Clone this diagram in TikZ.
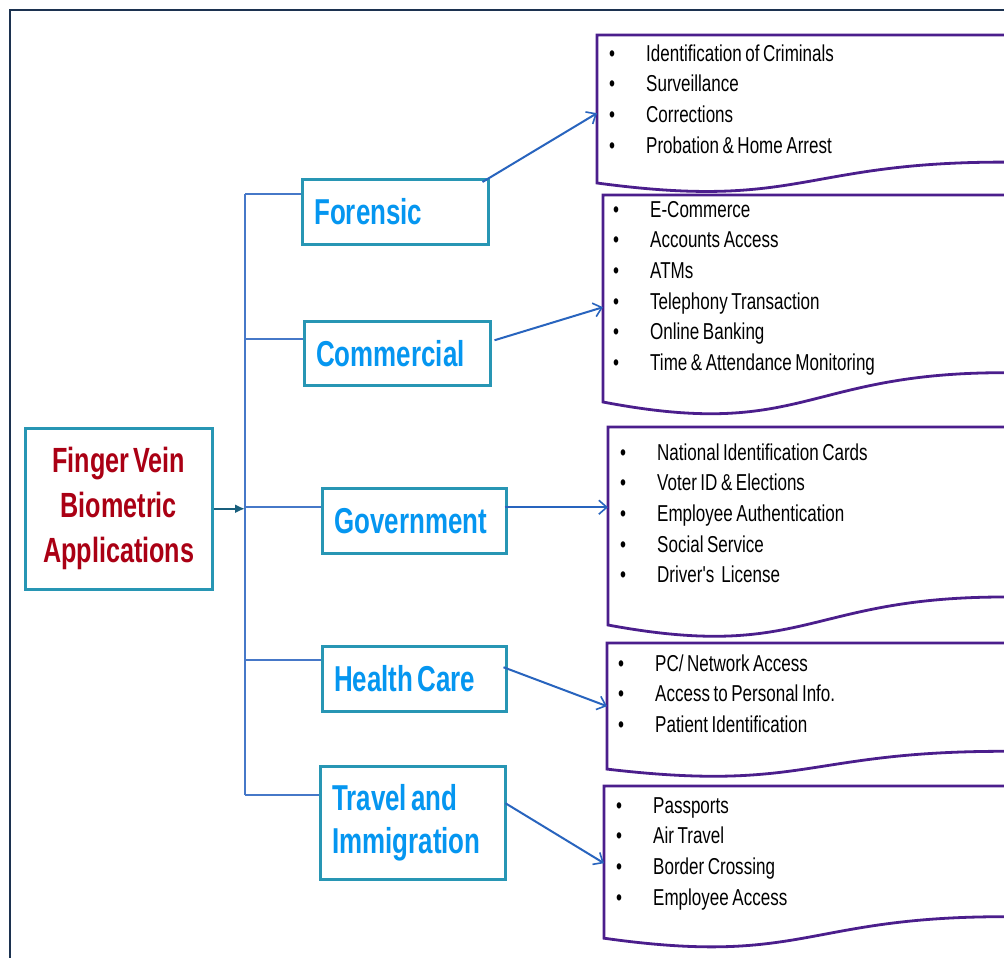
\documentclass[tikz,border=0pt]{standalone}
\usepackage{fontspec}
\setmainfont{Liberation Sans}
\newfontfamily\headfont[FakeStretch=0.72,WordSpace={0.55,0,0}]{Liberation Sans}
\newfontfamily\listfont[FakeStretch=0.74,WordSpace={0.75,0,0}]{Liberation Sans}
\usetikzlibrary{arrows.meta,calc}
\definecolor{framec}{RGB}{28,50,80}
\definecolor{boxc}{RGB}{40,150,180}
\definecolor{catc}{RGB}{5,150,240}
\definecolor{mainc}{RGB}{170,0,20}
\definecolor{busc}{RGB}{70,120,200}
\definecolor{arrc}{RGB}{40,100,190}
\definecolor{mainarrc}{RGB}{25,95,125}
\definecolor{docc}{RGB}{75,30,140}
\newcommand\lbul{\rule{0pt}{24pt}\makebox[37pt][l]{\textbullet}}
\newcommand\tightsp{\spaceskip=0.12em\relax}
\begin{document}
\begin{tikzpicture}[x=1pt,y=-1pt,
  mainbox/.style={draw=boxc,line width=2.5pt,align=center,text=mainc,inner sep=0pt,
    font=\headfont\bfseries\fontsize{35}{45}\selectfont,anchor=north west},
  catbox/.style={draw=boxc,line width=2.5pt,align=left,text=catc,inner xsep=12pt,inner ysep=0pt,
    font=\headfont\bfseries\fontsize{36}{43}\selectfont,anchor=north west},
  docarea/.style={inner sep=0pt,anchor=north west,minimum width=20pt},
  docline/.style={draw=docc,line width=2.8pt,fill=white},
  listtext/.style={inner sep=0pt,anchor=north west,align=left,
    font=\listfont\fontsize{23}{30.6}\selectfont},
  bus/.style={draw=busc,line width=2pt},
  arr/.style={draw=arrc,line width=2pt,-{Straight Barb[length=8pt,width=14pt,line width=1.6pt]}},
  mainarr/.style={draw=mainarrc,line width=2pt,-{Latex[length=10pt,width=9pt]}}
]
\useasboundingbox (0,0) rectangle (1004,958);
\fill[white] (0,0) rectangle (1004,958);
\draw[framec,line width=2pt] (10,958) -- (10,10) -- (1004,10);

% main box
\node[mainbox,minimum width=187pt,minimum height=161pt] (m) at (24,427) {Finger Vein\\Biometric\\Applications};

% category boxes
\node[catbox,text width=162pt,minimum height=65pt] (f) at (301,178) {Forensic};
\node[catbox,text width=162pt,minimum height=64pt] (c) at (303,320) {Commercial};
\node[catbox,text width=160pt,minimum height=65pt] (g) at (321,487) {Government};
\node[catbox,text width=160pt,minimum height=65pt] (h) at (321,645) {\tightsp Health Care};
\node[catbox,text width=161pt,minimum height=113pt] (t) at (319,765) {\tightsp Travel and\\Immigration};

% bus
\coordinate (bf) at (245,194);
\coordinate (bc) at (245,339);
\coordinate (bg) at (245,507);
\coordinate (bh) at (245,660);
\coordinate (bt) at (245,795);
\draw[bus] (bf) -- (bt);
\draw[bus] (bf) -- (bf -| f.west);
\draw[bus] (bc) -- (bc -| c.west);
\draw[bus] (bg) -- (bg -| g.west);
\draw[bus] (bh) -- (bh -| h.west);
\draw[bus] (bt) -- (bt -| t.west);
\draw[mainarr] (m.east) -- (m.east -| bg);

% documents
\draw[docline] (597,35) -- (1006,35) -- (1006,162.1) -- (1004,162.1) .. controls (800.5,162.1) and (800.5,210.5) .. (597,183) -- cycle;
\draw[docline] (603,195) -- (1006,195) -- (1006,372.7) -- (1004,372.7) .. controls (803.5,372.7) and (803.5,440.3) .. (603,402) -- cycle;
\draw[docline] (608,427) -- (1006,427) -- (1006,597) -- (1004,597) .. controls (806,597) and (806,661.7) .. (608,625) -- cycle;
\draw[docline] (607,643) -- (1006,643) -- (1006,751.3) -- (1004,751.3) .. controls (805.5,751.3) and (805.5,792.4) .. (607,769.1) -- cycle;
\draw[docline] (604,786) -- (1006,786) -- (1006,916.7) -- (1004,916.7) .. controls (804,916.7) and (804,966.4) .. (604,938.2) -- cycle;

\node[docarea,minimum height=148pt] (d1) at (597,35) {};
\node[docarea,minimum height=207pt] (d2) at (603,195) {};
\node[docarea,minimum height=198pt] (d3) at (608,427) {};
\node[docarea,minimum height=126pt] (d4) at (607,643) {};
\node[docarea,minimum height=152pt] (d5) at (604,786) {};

\node[listtext] (l1) at (609,37) {\lbul Identification of Criminals\\\lbul Surveillance\\\lbul Corrections\\\lbul Probation \& Home Arrest};
\node[listtext] (l2) at (613,193) {\lbul E-Commerce\\\lbul Accounts Access\\\lbul ATMs\\\lbul Telephony Transaction\\\lbul Online Banking\\\lbul Time \& Attendance Monitoring};
\node[listtext] (l3) at (620,436) {\lbul National Identification Cards\\\lbul Voter ID \& Elections\\\lbul Employee Authentication\\\lbul Social Service\\\lbul Driver's\ \ License};
\node[listtext] (l4) at (618,647) {\lbul PC/ Network Access\\\lbul Access to Personal Info.\\\lbul Patient Identification};
\node[listtext] (l5) at (616,789) {\lbul Passports\\\lbul Air Travel\\\lbul Border Crossing\\\lbul Employee Access};

% arrows to documents
\draw[arr] ([xshift=-7pt,yshift=-4pt]f.north east) -- ([yshift=-4pt]d1.west);
\draw[arr] ([xshift=3pt,yshift=13pt]c.east) -- ([yshift=-8.5pt]d2.west);
\coordinate (g0) at ([xshift=-3pt,yshift=13.5pt]g.east);
\draw[arr] (g0) -- (g0 -| d3.west);
\draw[arr] ([xshift=-4pt,yshift=11.5pt]h.east) -- (d4.west);
\draw[arr] ([xshift=-1pt,yshift=19.5pt]t.east) -- ([yshift=-1pt]d5.west);
\end{tikzpicture}
\end{document}
